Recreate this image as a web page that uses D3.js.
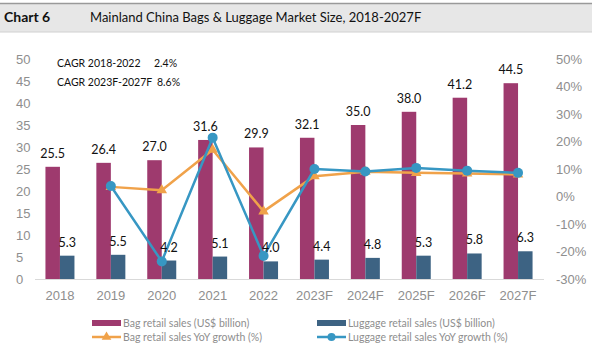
<!DOCTYPE html>
<html>
<head>
<meta charset="utf-8">
<script src="https://cdn.jsdelivr.net/npm/d3@7"></script>
<style>
  body { margin: 0; background: #fff; }
  svg { display: block; font-family: Lato, "Open Sans", sans-serif; }
</style>
</head>
<body>
<div id="chart"></div>
<script>
// Data
const years = ["2018", "2019", "2020", "2021", "2022", "2023F", "2024F", "2025F", "2026F", "2027F"];
const bagSales = [25.5, 26.4, 27.0, 31.6, 29.9, 32.1, 35.0, 38.0, 41.2, 44.5];
const luggageSales = [5.3, 5.5, 4.2, 5.1, 4.0, 4.4, 4.8, 5.3, 5.8, 6.3];
// YoY growth in %, none for 2018
const bagYoY = [null, 3.5, 2.3, 17.0, -5.4, 7.4, 9.0, 8.6, 8.4, 8.0];
const luggageYoY = [null, 3.8, -23.6, 21.4, -21.6, 10.0, 9.1, 10.4, 9.4, 8.6];
const leftTicks = [0, 5, 10, 15, 20, 25, 30, 35, 40, 45, 50];
const rightTicks = [-30, -20, -10, 0, 10, 20, 30, 40, 50];
const cagrLines = [["CAGR 2018-2022", "2.4%"], ["CAGR 2023F-2027F", "8.6%"]];

const W = 602, H = 349;
const BAG = "#9e3a6e", LUG = "#3d6383", ORANGE = "#f0a24a", BLUE = "#3797c3";

const svg = d3.select("#chart").append("svg")
    .attr("width", W)
    .attr("height", H);

// Title band
svg.append("rect").attr("x", 0).attr("y", 3).attr("width", 592).attr("height", 29).attr("fill", "#e7e7e7");
svg.append("line").attr("x1", 0).attr("x2", 592).attr("y1", 3.5).attr("y2", 3.5).attr("stroke", "#9a9a9a").attr("stroke-width", 1.5);
svg.append("line").attr("x1", 0).attr("x2", 592).attr("y1", 32).attr("y2", 32).attr("stroke", "#d0d0d0");
svg.append("text").attr("x", 4).attr("y", 22).attr("font-size", 14).attr("font-weight", "bold").attr("fill", "#111").text("Chart 6");
svg.append("text").attr("x", 90).attr("y", 22).attr("font-size", 13).attr("fill", "#111")
    .text("Mainland China Bags & Luggage Market Size, 2018-2027F");

// Scales
const x = d3.scaleBand().domain(years).range([34.5, 543.5]);
const xs = d3.scaleBand().domain(["bag", "lug"]).range([0, x.bandwidth()]).paddingOuter(0.755);
const y = d3.scaleLinear().domain([0, 50]).range([279, 59]);
const y2 = d3.scaleLinear().domain([-30, 50]).range([279, 59]);
const cx = d => x(d) + x.bandwidth() / 2;

// Axes
const gLeft = svg.append("g").attr("transform", "translate(16,0)")
    .call(d3.axisLeft(y).tickValues(leftTicks).tickSize(0).tickPadding(0));
gLeft.select(".domain").remove();
gLeft.selectAll("text").attr("text-anchor", "start").attr("font-size", 13).attr("fill", "#8e8e8e").attr("font-family", null);

const gRight = svg.append("g").attr("transform", "translate(556,0)")
    .call(d3.axisRight(y2).tickValues(rightTicks).tickSize(0).tickPadding(0).tickFormat(d => d + "%"));
gRight.select(".domain").remove();
gRight.selectAll("text").attr("font-size", 13).attr("fill", "#8e8e8e").attr("font-family", null);

const gBottom = svg.append("g").attr("transform", "translate(0,279)")
    .call(d3.axisBottom(x).tickSize(0).tickPadding(12));
gBottom.select(".domain").attr("stroke", "#d9d9d9");
gBottom.selectAll("text").attr("font-size", 13).attr("fill", "#8e8e8e").attr("font-family", null);

// Bars
svg.append("g").selectAll("rect")
    .data(years)
    .enter().append("rect")
        .attr("x", (d) => x(d) + xs("bag"))
        .attr("y", (d, i) => y(bagSales[i]))
        .attr("width", xs.bandwidth())
        .attr("height", (d, i) => y(0) - y(bagSales[i]))
        .attr("fill", BAG);

svg.append("g").selectAll("rect")
    .data(years)
    .enter().append("rect")
        .attr("x", (d) => x(d) + xs("lug"))
        .attr("y", (d, i) => y(luggageSales[i]))
        .attr("width", xs.bandwidth())
        .attr("height", (d, i) => y(0) - y(luggageSales[i]))
        .attr("fill", LUG);

// Lines
const line = d3.line()
    .defined(d => d.v !== null)
    .x(d => cx(d.year))
    .y(d => y2(d.v));

const bagPts = years.map((yr, i) => ({ year: yr, v: bagYoY[i] })).filter(d => d.v !== null);
const lugPts = years.map((yr, i) => ({ year: yr, v: luggageYoY[i] })).filter(d => d.v !== null);

svg.append("path").datum(bagPts).attr("d", line)
    .attr("fill", "none").attr("stroke", ORANGE).attr("stroke-width", 2.5).attr("stroke-linejoin", "round");
svg.append("g").selectAll("path")
    .data(bagPts)
    .enter().append("path")
        .attr("d", d3.symbol(d3.symbolTriangle, 48))
        .attr("transform", d => "translate(" + cx(d.year) + "," + y2(d.v) + ")")
        .attr("fill", ORANGE);

svg.append("path").datum(lugPts).attr("d", line)
    .attr("fill", "none").attr("stroke", BLUE).attr("stroke-width", 2.5).attr("stroke-linejoin", "round");
svg.append("g").selectAll("circle")
    .data(lugPts)
    .enter().append("circle")
        .attr("cx", d => cx(d.year))
        .attr("cy", d => y2(d.v))
        .attr("r", 5)
        .attr("fill", BLUE);

// Data labels
svg.append("g").selectAll("text")
    .data(years)
    .enter().append("text")
        .attr("x", d => x(d) + xs("bag") + xs.bandwidth() / 2)
        .attr("y", (d, i) => y(bagSales[i]) - 9)
        .attr("text-anchor", "middle")
        .attr("font-size", 12.5)
        .attr("fill", "#111")
        .text((d, i) => bagSales[i].toFixed(1));

svg.append("g").selectAll("text")
    .data(years)
    .enter().append("text")
        .attr("x", d => x(d) + xs("lug") + xs.bandwidth() / 2)
        .attr("y", (d, i) => y(luggageSales[i]) - 9)
        .attr("text-anchor", "middle")
        .attr("font-size", 12.5)
        .attr("fill", "#111")
        .text((d, i) => luggageSales[i].toFixed(1));

// CAGR note
cagrLines.forEach((c, i) => {
    svg.append("text").attr("x", 57).attr("y", 67 + i * 19).attr("font-size", 10.5).attr("fill", "#111").text(c[0]);
    svg.append("text").attr("x", i === 0 ? 154 : 157).attr("y", 67 + i * 19).attr("font-size", 10.5).attr("fill", "#111").text(c[1]);
});

// Legend
const legend = svg.append("g").attr("font-size", 10.5).attr("fill", "#8e8e8e");
const items = [
    { label: "Bag retail sales (US$ billion)", x: 92, y: 323, type: "bar", color: BAG },
    { label: "Luggage retail sales (US$ billion)", x: 317, y: 323, type: "bar", color: LUG },
    { label: "Bag retail sales YoY growth (%)", x: 92, y: 337, type: "tri", color: ORANGE },
    { label: "Luggage retail sales YoY growth (%)", x: 317, y: 337, type: "dot", color: BLUE }
];
items.forEach(it => {
    if (it.type === "bar") {
        legend.append("rect").attr("x", it.x).attr("y", it.y - 3).attr("width", 29).attr("height", 6).attr("fill", it.color);
    } else {
        legend.append("line").attr("x1", it.x).attr("x2", it.x + 29).attr("y1", it.y).attr("y2", it.y)
            .attr("stroke", it.color).attr("stroke-width", 2.5);
        if (it.type === "tri") {
            legend.append("path").attr("d", d3.symbol(d3.symbolTriangle, 40))
                .attr("transform", "translate(" + (it.x + 14.5) + "," + it.y + ")").attr("fill", it.color);
        } else {
            legend.append("circle").attr("cx", it.x + 14.5).attr("cy", it.y).attr("r", 4).attr("fill", it.color);
        }
    }
    legend.append("text").attr("x", it.x + 31).attr("y", it.y + 4).text(it.label);
});
</script>
</body>
</html>
